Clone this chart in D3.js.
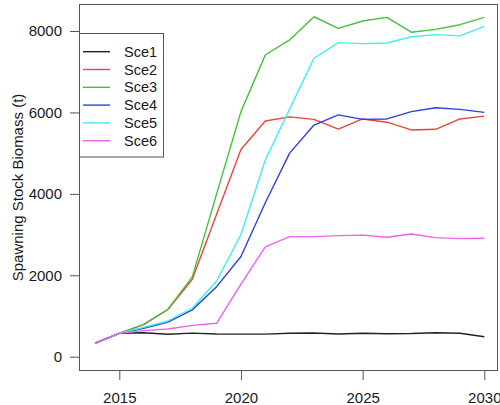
<!DOCTYPE html>
<html>
<head>
<meta charset="utf-8">
<script src="https://cdn.jsdelivr.net/npm/d3@7"></script>
<style>
  html, body { margin: 0; padding: 0; background: #fff; }
  svg { display: block; }
  text { font-family: "Liberation Sans", Arial, Helvetica, sans-serif; fill: #1a1a1a; }
</style>
</head>
<body>
<svg id="chart" width="500" height="405"></svg>
<script>
// Projection years and spawning stock biomass (t) per scenario
const years = [2014, 2015, 2016, 2017, 2018, 2019, 2020, 2021, 2022, 2023, 2024, 2025, 2026, 2027, 2028, 2029, 2030];

const sce1 = [330, 575, 590, 550, 580, 558, 555, 555, 575, 582, 558, 575, 565, 570, 590, 575, 490];
const sce2 = [330, 575, 790, 1160, 1900, 3500, 5090, 5790, 5890, 5830, 5590, 5840, 5760, 5570, 5585, 5840, 5910];
const sce3 = [330, 575, 795, 1165, 1960, 4000, 6020, 7410, 7780, 8350, 8065, 8245, 8335, 7970, 8040, 8155, 8335];
const sce4 = [330, 575, 700, 850, 1150, 1720, 2460, 3780, 5000, 5690, 5940, 5830, 5840, 6020, 6115, 6075, 6000];
const sce5 = [330, 575, 720, 877, 1190, 1860, 3000, 4830, 6080, 7330, 7715, 7690, 7705, 7860, 7910, 7880, 8115];
const sce6 = [330, 575, 640, 680, 770, 820, 1780, 2700, 2950, 2950, 2975, 2985, 2935, 3015, 2925, 2900, 2910];

const seriesNames = ["Sce1", "Sce2", "Sce3", "Sce4", "Sce5", "Sce6"];
const seriesValues = [sce1, sce2, sce3, sce4, sce5, sce6];
const seriesColors = ["#222222", "#e8453c", "#45c03f", "#2f3fe2", "#3fefef", "#f060ee"];

const xTicks = [2015, 2020, 2025, 2030];
const yTicks = [0, 2000, 4000, 6000, 8000];
const yTitle = "Spawning Stock Biomass (t)";

const svg = d3.select("#chart");

// plotting region (box) and scales
const box = { left: 79, right: 498, top: 4, bottom: 371 };
const x = d3.scaleLinear().domain([2015, 2030]).range([119.3, 484.3]);
const y = d3.scaleLinear().domain([0, 8000]).range([356.7, 31]);

// series lines
const line = d3.line()
  .x((d, i) => x(years[i]))
  .y(d => y(d));

svg.append("g")
  .selectAll("path")
  .data(seriesValues)
  .join("path")
  .attr("d", d => line(d))
  .attr("fill", "none")
  .attr("stroke", (d, i) => seriesColors[i])
  .attr("stroke-width", 1.4)
  .attr("stroke-linejoin", "round");

// axes
const yAxis = d3.axisLeft(y).tickValues(yTicks).tickFormat(d3.format("d")).tickSize(9).tickPadding(8);
const xAxis = d3.axisBottom(x).tickValues(xTicks).tickFormat(d3.format("d")).tickSize(9).tickPadding(12);

const gy = svg.append("g").attr("transform", `translate(${box.left},0)`).call(yAxis);
const gx = svg.append("g").attr("transform", `translate(0,${box.bottom})`).call(xAxis);

[gx, gy].forEach(g => {
  g.select(".domain").remove();
  g.selectAll(".tick line").attr("stroke", "#555").attr("stroke-width", 1);
  g.selectAll(".tick text").attr("font-size", 15).style("fill", "#1a1a1a");
});

// frame around the plotting region
svg.append("rect")
  .attr("x", box.left + 0.5)
  .attr("y", box.top + 0.5)
  .attr("width", box.right - box.left - 1)
  .attr("height", box.bottom - box.top - 1)
  .attr("fill", "none")
  .attr("stroke", "#555")
  .attr("stroke-width", 1);

// y-axis title
svg.append("text")
  .attr("transform", `translate(23,${(box.top + box.bottom) / 2}) rotate(-90)`)
  .attr("text-anchor", "middle")
  .attr("font-size", 15)
  .text(yTitle);

// legend
const legend = svg.append("g");
legend.append("rect")
  .attr("x", box.left + 0.5)
  .attr("y", 33.5)
  .attr("width", 84)
  .attr("height", 123.5)
  .attr("fill", "#fff")
  .attr("stroke", "#555")
  .attr("stroke-width", 1);

const rowY = d3.scalePoint().domain(seriesNames).range([51.7, 140.7]);

const rows = legend.selectAll("g.row")
  .data(seriesNames)
  .join("g")
  .attr("class", "row")
  .attr("transform", d => `translate(0,${rowY(d)})`);

rows.append("line")
  .attr("x1", 83).attr("x2", 110)
  .attr("y1", 0).attr("y2", 0)
  .attr("stroke", (d, i) => seriesColors[i])
  .attr("stroke-width", 1.4);

rows.append("text")
  .attr("x", 124)
  .attr("dy", "0.35em")
  .attr("font-size", 14.5)
  .text(d => d);
</script>
</body>
</html>
